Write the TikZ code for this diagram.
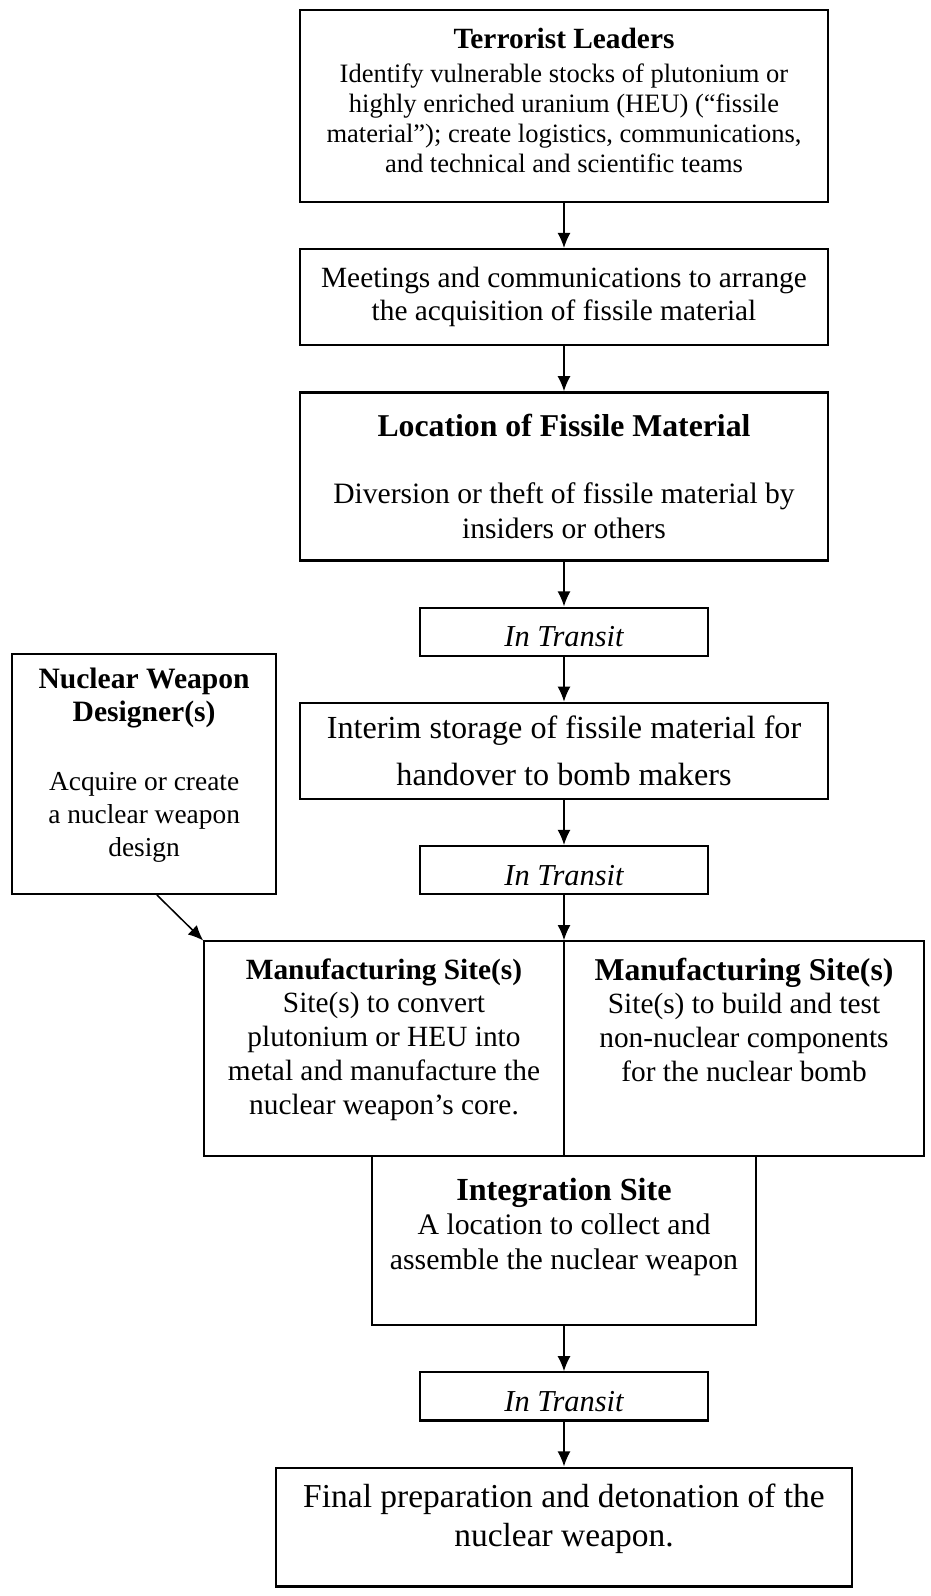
\documentclass[tikz,border=0pt]{standalone}
\usepackage{fontspec}
\setmainfont{Liberation Serif}
\usetikzlibrary{positioning, arrows.meta}

\begin{document}
\begin{tikzpicture}[x=0.46pt, y=-0.46pt, node distance=21.7pt,
    box/.style={draw, line width=1pt, outer sep=0pt, align=center, inner sep=2pt, minimum width=242.9pt},
    transit/.style={draw, line width=1pt, outer sep=0pt, inner sep=0pt, minimum width=132.5pt, minimum height=22.1pt,
        text height=14pt, text depth=0pt, font=\fontsize{14}{16}\selectfont\itshape},
    arr/.style={-{Latex[length=7pt, width=6pt]}, line width=0.7pt, shorten >=0.5pt, shorten <=0.5pt}]
    \path[use as bounding box, fill=white] (0,0) rectangle (930,1596);

    \node [box, minimum height=88.3pt, font=\fontsize{12.2}{13.8}\selectfont] (lead) at (564,106)
        {{\fontsize{13.5}{15}\selectfont\bfseries Terrorist Leaders}\\[1.8pt]
         Identify vulnerable stocks of plutonium or\\
         highly enriched uranium (HEU) (“fissile\\
         material”); create logistics, communications,\\
         and technical and scientific teams\\[-8.3pt]\mbox{}};
    \node [box, below=of lead, minimum height=44.2pt, font=\fontsize{13.5}{15.2}\selectfont] (meet)
        {Meetings and communications to arrange\\ the acquisition of fissile material};
    \node [box, below=of meet, minimum height=77.3pt, font=\fontsize{13.6}{16}\selectfont] (loc)
        {{\fontsize{14.6}{17}\selectfont\bfseries Location of Fissile Material}\\[15pt]
         Diversion or theft of fissile material by\\ insiders or others};
    \node [transit, below=of loc] (it1) {In Transit};
    \node [box, below=of it1, minimum height=44.2pt, font=\fontsize{14.8}{22}\selectfont] (store)
        {Interim storage of fissile material for\\ handover to bomb makers};
    \node [transit, below=of store] (it2) {In Transit};

    \node [box, below=of it2, anchor=north east, minimum width=165.6pt, minimum height=98.9pt,
        font=\fontsize{13.5}{15.5}\selectfont] (mfgA)
        {{\bfseries Manufacturing Site(s)}\\ Site(s) to convert\\ plutonium or HEU into\\
         metal and manufacture the\\ nuclear weapon’s core.\\[-4pt]\mbox{}};
    \node [box, right=0pt of mfgA, minimum width=165.6pt, minimum height=98.9pt,
        font=\fontsize{13.5}{15.5}\selectfont] (mfgB)
        {{\fontsize{14.6}{16}\selectfont\bfseries Manufacturing Site(s)}\\ Site(s) to build and test\\
         non-nuclear components\\ for the nuclear bomb\\[11.5pt]\mbox{}};

    \node [box, below=0pt of mfgA.south east, minimum width=176.6pt, minimum height=77.7pt,
        font=\fontsize{13.7}{15.9}\selectfont] (integ)
        {{\fontsize{14.8}{17}\selectfont\bfseries Integration Site}\\ A location to collect and\\
         assemble the nuclear weapon\\ \mbox{}};
    \node [transit, below=of integ] (it3) {In Transit};
    \node [box, below=of it3, minimum width=265pt, minimum height=54.7pt,
        font=\fontsize{15.4}{18}\selectfont] (final)
        {Final preparation and detonation of the\\ nuclear weapon.\\[-7pt]\mbox{}};

    \coordinate (dc) at (store.west |- it2.south);
    \node [box, left=11pt of dc, anchor=south east, minimum width=121.4pt, minimum height=110.4pt,
        font=\fontsize{12.6}{15}\selectfont] (design)
        {{\fontsize{13.6}{14.7}\selectfont\bfseries Nuclear Weapon}\\
         {\fontsize{13.6}{14.7}\selectfont\bfseries Designer(s)}\\[17pt]
         Acquire or create\\ a nuclear weapon\\ design\\[-4pt]\mbox{}};

    \draw[arr] (lead) -- (meet);
    \draw[arr] (meet) -- (loc);
    \draw[arr] (loc) -- (it1);
    \draw[arr] (it1) -- (store);
    \draw[arr] (store) -- (it2);
    \draw[arr] (it2) -- (mfgA.north east);
    \draw[arr] ([xshift=5.5pt]design.south) -- (mfgA.north west);
    \draw[arr] (integ) -- (it3);
    \draw[arr] (it3) -- (final);
\end{tikzpicture}
\end{document}
